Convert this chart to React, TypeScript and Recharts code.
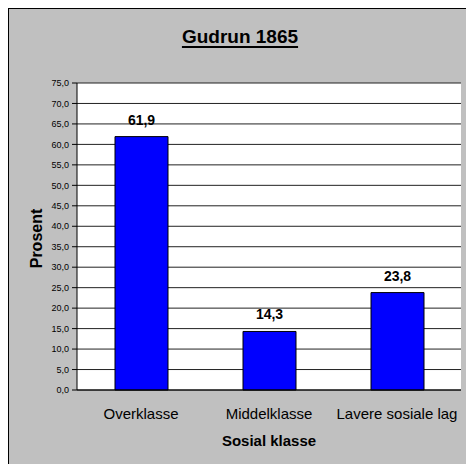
import { BarChart, Bar, XAxis, YAxis, CartesianGrid, LabelList, Label } from "recharts";

const categories = ["Overklasse", "Middelklasse", "Lavere sosiale lag"];
const values = [61.9, 14.3, 23.8];
const yTicks = [0, 5, 10, 15, 20, 25, 30, 35, 40, 45, 50, 55, 60, 65, 70, 75];
const edgeTicks = [0, 1, 2, 3];

const data = categories.map((name, i) => ({ name, value: values[i] }));

const FONT = '"Liberation Sans", Arial, sans-serif';
const fmt = (v: number) => v.toFixed(1).replace(".", ",");

const ProsentLabel = (props: any) => {
  const { viewBox } = props;
  const cx = viewBox.x + 27;
  const cy = viewBox.y + viewBox.height / 2 + 2;
  return (
    <text
      x={cx}
      y={cy}
      transform={`rotate(-90 ${cx} ${cy})`}
      textAnchor="middle"
      dominantBaseline="central"
      fontFamily={FONT}
      fontWeight="bold"
      fontSize={16}
      fill="#000"
    >
      Prosent
    </text>
  );
};

export default function App() {
  return (
    <div
      style={{
        position: "fixed",
        left: 8,
        top: 8,
        width: 458,
        height: 456,
        background: "#c0c0c0",
        borderTop: "1px solid #000",
        borderLeft: "1px solid #000",
        boxSizing: "border-box",
        fontFamily: FONT,
      }}
    >
      <div
        style={{
          position: "absolute",
          left: 231,
          top: 28,
          transform: "translate(-50%, -50%)",
          fontSize: 19,
          fontWeight: "bold",
          textDecoration: "underline",
          textDecorationThickness: 2,
          textUnderlineOffset: 3,
          whiteSpace: "nowrap",
          color: "#000",
        }}
      >
        Gudrun 1865
      </div>
      <BarChart
        width={457}
        height={455}
        data={data}
        margin={{ top: 74, right: 5, bottom: 14, left: 0 }}
        style={{ position: "absolute", left: 0, top: 0 }}
      >
        <CartesianGrid fill="#fff" vertical={false} stroke="#222" yAxisId="left" xAxisId="cat" />
        <XAxis
          xAxisId="edges"
          type="number"
          domain={[0, 3]}
          ticks={edgeTicks}
          tick={false}
          height={0}
          axisLine={false}
          tickLine={{ stroke: "#000" }}
          tickSize={5}
        />
        <XAxis
          xAxisId="cat"
          dataKey="name"
          height={60}
          axisLine={{ stroke: "#000" }}
          tickLine={false}
          tickSize={6}
          tickMargin={12}
          tick={{ fill: "#000", fontSize: 15, fontFamily: FONT }}
          interval={0}
        >
          <Label
            value="Sosial klasse"
            position="insideBottom"
            offset={4}
            fill="#000"
            fontSize={15}
            fontWeight="bold"
            fontFamily={FONT}
          />
        </XAxis>
        <YAxis
          yAxisId="left"
          width={68}
          domain={[0, 75]}
          ticks={yTicks}
          interval={0}
          tickFormatter={fmt}
          axisLine={{ stroke: "#000" }}
          tickLine={{ stroke: "#000" }}
          tickSize={5}
          tickMargin={3}
          tick={{ fill: "#000", fontSize: 9, fontFamily: FONT }}
        >
          <Label content={ProsentLabel} />
        </YAxis>
        <YAxis
          yAxisId="right"
          orientation="right"
          width={0}
          domain={[0, 75]}
          tick={false}
          tickLine={false}
          axisLine={{ stroke: "#808080" }}
        />
        <Bar
          dataKey="value"
          xAxisId="cat"
          yAxisId="left"
          fill="#0000ff"
          stroke="#000"
          strokeWidth={1}
          barSize={53}
          isAnimationActive={false}
        >
          <LabelList
            dataKey="value"
            position="top"
            offset={12}
            formatter={(v: any) => fmt(Number(v))}
            fill="#000"
            fontSize={14}
            fontWeight="bold"
            fontFamily={FONT}
          />
        </Bar>
      </BarChart>
    </div>
  );
}
